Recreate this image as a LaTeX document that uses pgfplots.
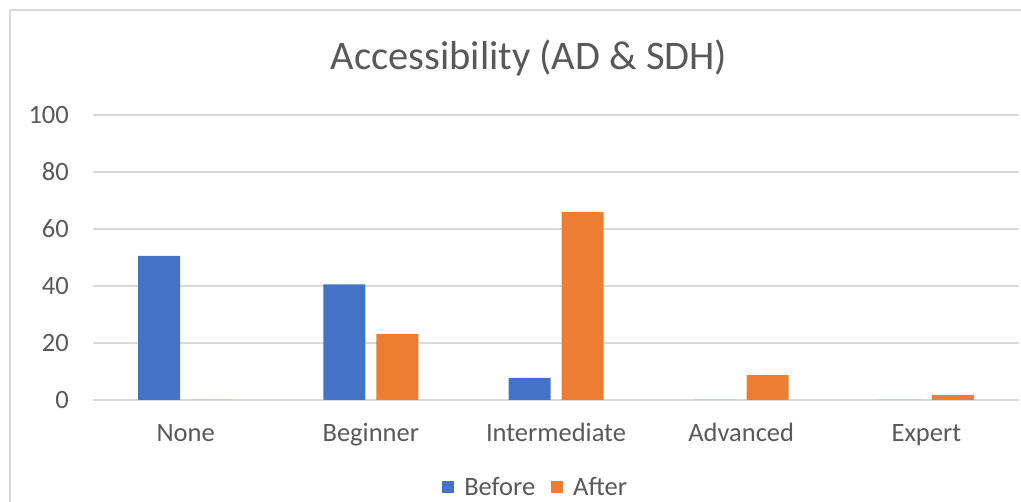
\documentclass[border=0pt]{standalone}
\usepackage{fontspec}
\setmainfont{Carlito}
\usepackage{pgfplots}
\pgfplotsset{compat=1.18}

\definecolor{barblue}{HTML}{4472C4}
\definecolor{barorange}{HTML}{ED7D31}
\definecolor{gridgray}{HTML}{D9D9D9}
\definecolor{textgray}{HTML}{595959}

\begin{document}
\begin{tikzpicture}[x=1pt,y=1pt]
  % page = 1021 x 502, 1pt per pixel
  \useasboundingbox (0,0) rectangle (1021,502);
  \begin{scope}
    \clip (0,0) rectangle (1021,502);
    \draw[gridgray, line width=1.5pt] (10,-20) -- (10,492) -- (1040,492);
  \end{scope}
  \node[text=textgray, font=\fontsize{40.5}{48}\selectfont] at (529,444) {Accessibility (AD \& SDH)};

  \begin{axis}[
      at={(93pt,102pt)}, anchor=south west,
      scale only axis,
      width=926pt, height=285pt,
      ybar=11pt,
      bar width=42pt,
      xmin=-0.5, xmax=4.5,
      ymin=0, ymax=100,
      xtick=data,
      xticklabels={None, Beginner, Intermediate, Advanced, Expert},
      ytick={0,20,...,100},
      axis line style={draw=none},
      ymajorgrids=true,
      grid style={gridgray, line width=1.2pt},
      major tick length=0pt,
      ticklabel style={text=textgray, font=\fontsize{26.5}{30}\selectfont},
      /pgf/number format/assume math mode=true,
      yticklabel style={anchor=east, inner sep=0pt, xshift=-24pt},
      xticklabel style={anchor=base, inner sep=0pt, yshift=-42pt},
      legend columns=-1,
      legend style={at={(0.478,-0.307)}, anchor=center, draw=none,
        font=\fontsize{26.5}{30}\selectfont, text=textgray,
        /tikz/every odd column/.append style={column sep=8pt},
        /tikz/every even column/.append style={column sep=14pt}},
      legend image code/.code={\fill[#1] (0pt,-6pt) rectangle (12pt,6pt);},
    ]
    \addplot[fill=barblue, draw=none] coordinates {(0,50.6) (1,40.6) (2,7.8) (3,0) (4,0)};
    \addplot[fill=barorange, draw=none] coordinates {(0,0) (1,23.1) (2,65.9) (3,8.7) (4,1.8)};
    \legend{Before, After}
  \end{axis}
\end{tikzpicture}
\end{document}
